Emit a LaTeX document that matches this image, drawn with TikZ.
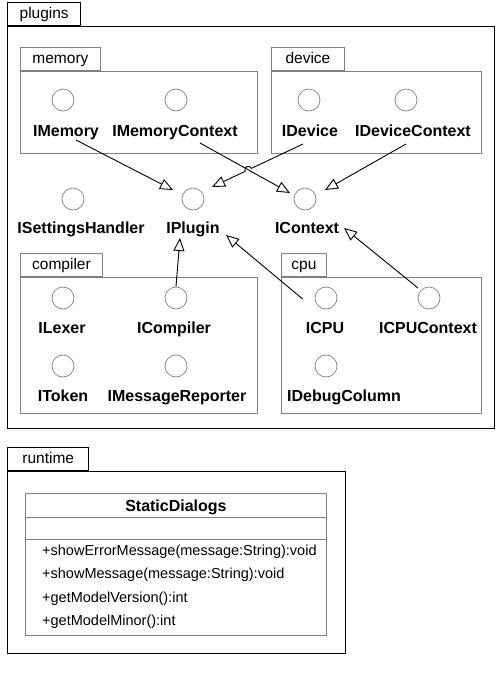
\documentclass[tikz,border=0pt]{standalone}
\usepackage{fontspec}
\setmainfont{Liberation Sans}
\usetikzlibrary{arrows.meta,calc,intersections}

\begin{document}
\begin{tikzpicture}[x=1pt, y=-1pt,
    outerpkg/.style={draw=black, line width=1.4pt},
    innerpkg/.style={draw=black!50, line width=0.9pt},
    tab/.style={anchor=south west, inner sep=0pt, minimum height=23pt, text height=11.5pt, text depth=2.5pt, font=\fontsize{15.5}{18}\selectfont},
    pkgbody/.style={anchor=north west, inner sep=0pt},
    iface/.style={circle, draw=black!50, line width=0.7pt, minimum size=22pt, inner sep=0pt},
    ifacename/.style={anchor=base, inner sep=0pt, font=\fontsize{16}{19}\selectfont\bfseries},
    method/.style={anchor=base west, inner sep=0pt, font=\fontsize{14.5}{17}\selectfont},
    realize/.style={line width=0.9pt, -{Triangle[open, length=13pt, width=11pt]}}]
    \useasboundingbox (0,0) rectangle (496,673);

    % packages
    \node[tab, outerpkg, minimum width=73pt] (pluginstab) at (7,26) {plugins};
    \node[pkgbody, outerpkg, minimum width=487pt, minimum height=402pt] (plugins) at (7,26) {};
    \node[tab, innerpkg, minimum width=80pt] (memorytab) at (20,71) {memory};
    \node[pkgbody, innerpkg, minimum width=237pt, minimum height=82pt] (memory) at (20,71) {};
    \node[tab, innerpkg, minimum width=73pt] (devicetab) at (271,71) {device};
    \node[pkgbody, innerpkg, minimum width=210pt, minimum height=82pt] (device) at (271,71) {};
    \node[tab, innerpkg, minimum width=82pt] (compilertab) at (20,277) {compiler};
    \node[pkgbody, innerpkg, minimum width=237pt, minimum height=136pt] (compiler) at (20,277) {};
    \node[tab, innerpkg, minimum width=45pt] (cputab) at (281,277) {cpu};
    \node[pkgbody, innerpkg, minimum width=200pt, minimum height=136pt] (cpu) at (281,277) {};
    \node[tab, outerpkg, minimum width=81pt] (runtimetab) at (7,471) {runtime};
    \node[pkgbody, outerpkg, minimum width=338pt, minimum height=182pt] (runtime) at (7,471) {};

    % interfaces
    \node[iface] (imemory) at (63,100) {};
    \node[ifacename] (imemorylbl) at (66,136) {IMemory};
    \node[iface] (imemorycontext) at (176,100) {};
    \node[ifacename] (imemorycontextlbl) at (175,136) {IMemoryContext};
    \node[iface] (idevice) at (309,100) {};
    \node[ifacename] (idevicelbl) at (310,136) {IDevice};
    \node[iface] (idevicecontext) at (406,100) {};
    \node[ifacename] (idevicecontextlbl) at (413,136) {IDeviceContext};

    \node[iface] (isettingshandler) at (73,199) {};
    \node[ifacename] (isettingshandlerlbl) at (81,233) {ISettingsHandler};
    \node[iface] (iplugin) at (193,199) {};
    \node[ifacename] (ipluginlbl) at (193,233) {IPlugin};
    \node[iface] (icontext) at (305,199) {};
    \node[ifacename] (icontextlbl) at (307,233) {IContext};

    \node[iface] (ilexer) at (63,298) {};
    \node[ifacename] (ilexerlbl) at (62,333) {ILexer};
    \node[iface] (icompiler) at (176,298) {};
    \node[ifacename] (icompilerlbl) at (174,333) {ICompiler};
    \node[iface] (itoken) at (63,366) {};
    \node[ifacename] (itokenlbl) at (63,401) {IToken};
    \node[iface] (imessagereporter) at (176,366) {};
    \node[ifacename] (imessagereporterlbl) at (177,401) {IMessageReporter};

    \node[iface] (icpu) at (326,298) {};
    \node[ifacename] (icpulbl) at (325,333) {ICPU};
    \node[iface] (icpucontext) at (429,298) {};
    \node[ifacename] (icpucontextlbl) at (428,333) {ICPUContext};
    \node[iface] (idebugcolumn) at (326,366) {};
    \node[ifacename] (idebugcolumnlbl) at (344,401) {IDebugColumn};

    % realizations
    \draw[realize] ([shift={(10,4)}]imemorylbl.base) -- ([shift={(-20,-9)}]iplugin.center);
    \draw[realize, name path=ctxline] ([shift={(25,7)}]imemorycontextlbl.base) -- ([shift={(-15,-6)}]icontext.center);
    \coordinate (devfrom) at ([shift={(-7,8)}]idevicelbl.base);
    \path[name path=devline] (devfrom) -- ([shift={(19,-12)}]iplugin.center);
    \path[name intersections={of=ctxline and devline, by=hop}];
    \draw[realize] let \p1=($(devfrom)-(hop)$), \n1={atan2(\y1,\x1)} in
        (devfrom) -- ($(hop)!3.5pt!(devfrom)$) arc[start angle=\n1, end angle=\n1+180, radius=3.5pt]
        -- ([shift={(19,-12)}]iplugin.center);
    \draw[realize] ([shift={(-7,8)}]idevicecontextlbl.base) -- ([shift={(20,-9)}]icontext.center);
    \draw[realize] (icompiler.north) -- ([shift={(-13,5)}]ipluginlbl.base);
    \draw[realize] ([shift={(-12,1)}]icpu.west) -- ([shift={(33,2)}]ipluginlbl.base);
    \draw[realize] ([shift={(-3,-2)}]icpucontext.north west) -- ([shift={(37,-5)}]icontextlbl.base);

    % class
    \node[pkgbody, innerpkg, minimum width=301pt, minimum height=142pt] (staticdialogs) at (25,493) {};
    \draw[innerpkg] ([shift={(0,24)}]staticdialogs.north west) -- ([shift={(0,24)}]staticdialogs.north east);
    \draw[innerpkg] ([shift={(0,46)}]staticdialogs.north west) -- ([shift={(0,46)}]staticdialogs.north east);
    \node[ifacename] (classname) at ([shift={(0,18)}]staticdialogs.north) {StaticDialogs};
    \node[method] (showerror) at (42,555) {+showErrorMessage(message:String):void};
    \node[method] (showmessage) at (42,578.5) {+showMessage(message:String):void};
    \node[method] (getversion) at (42,602) {+getModelVersion():int};
    \node[method] (getminor) at (42,625.5) {+getModelMinor():int};
\end{tikzpicture}
\end{document}
